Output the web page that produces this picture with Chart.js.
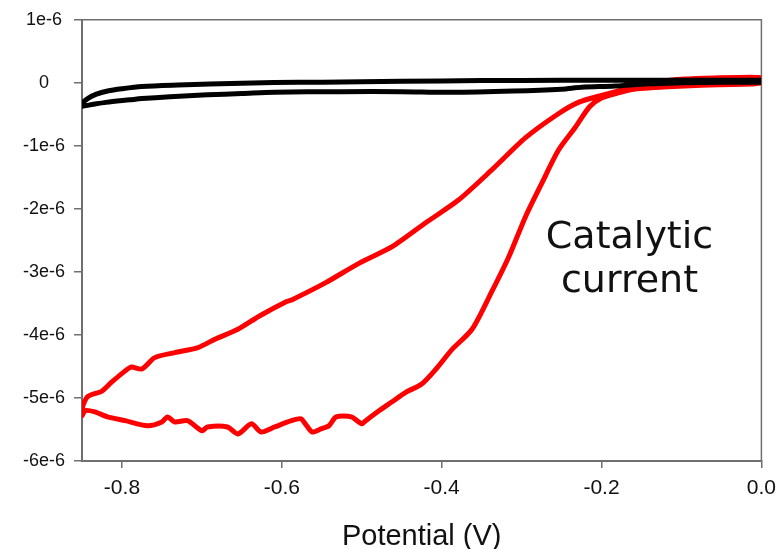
<!DOCTYPE html>
<html>
<head>
<meta charset="utf-8">
<script src="https://cdn.jsdelivr.net/npm/chart.js@4.4.1/dist/chart.umd.min.js"></script>
<style>
  html, body { margin: 0; padding: 0; background: #ffffff; }
  #wrap { width: 784px; height: 549px; }
</style>
</head>
<body>
<div id="wrap"><canvas id="cv" width="784" height="549"></canvas></div>
<script>
// Axis ticks
const potentialTicks = [-0.8, -0.6, -0.4, -0.2, 0.0];
const potentialTickLabels = ['-0.8', '-0.6', '-0.4', '-0.2', '0.0'];
const currentTicks = [1, 0, -1, -2, -3, -4, -5, -6];           // in units of 1e-6 A
const currentTickLabels = ['1e-6', '0', '-1e-6', '-2e-6', '-3e-6', '-4e-6', '-5e-6', '-6e-6'];

// Blank scan (no catalyst): potential (V) and current (1e-6 A)
const blankPotential = [
  0.0, -0.05, -0.15, -0.25, -0.35, -0.45, -0.55, -0.61, -0.69, -0.73, -0.775, -0.80, -0.818, -0.832, -0.843, -0.85,
  -0.85, -0.84, -0.82, -0.79, -0.775, -0.74, -0.693, -0.65, -0.609, -0.526, -0.45, -0.39, -0.31, -0.25, -0.225, -0.183, -0.142, -0.10, -0.05, 0.0
];
const blankCurrent = [
  0.04, 0.04, 0.04, 0.04, 0.035, 0.025, 0.01, 0.005, -0.02, -0.035, -0.06, -0.095, -0.13, -0.18, -0.25, -0.33,
  -0.37, -0.35, -0.31, -0.27, -0.25, -0.22, -0.19, -0.17, -0.15, -0.14, -0.14, -0.15, -0.13, -0.10, -0.07, -0.05, -0.015, 0.0, 0.01, 0.01
];

// Catalytic scan: potential (V) and current (1e-6 A)
const catalyticPotential = [
  0.0, -0.013, -0.054, -0.096, -0.138, -0.158, -0.179, -0.200, -0.215, -0.233, -0.254, -0.275, -0.295, -0.316, -0.338, -0.362,
  -0.387, -0.407, -0.425, -0.445, -0.462, -0.478, -0.495, -0.500, -0.513, -0.532, -0.541, -0.551, -0.562, -0.569, -0.576, -0.588,
  -0.609, -0.626, -0.638, -0.655, -0.668, -0.693, -0.700, -0.718, -0.734, -0.743, -0.750, -0.768, -0.796, -0.818, -0.834, -0.846, -0.85,
  -0.85, -0.843, -0.825, -0.813, -0.796, -0.788, -0.775, -0.759, -0.734, -0.705, -0.684, -0.655, -0.628, -0.594, -0.587, -0.545,
  -0.503, -0.462, -0.420, -0.379, -0.338, -0.295, -0.254, -0.229, -0.200, -0.179, -0.138, -0.096, -0.054, -0.013, 0.0
];
const catalyticCurrent = [
  0.0, -0.02, -0.03, -0.05, -0.08, -0.10, -0.16, -0.24, -0.38, -0.71, -1.07, -1.60, -2.12, -2.76, -3.33, -3.91,
  -4.23, -4.54, -4.78, -4.91, -5.06, -5.20, -5.36, -5.41, -5.30, -5.30, -5.44, -5.49, -5.54, -5.44, -5.33, -5.36,
  -5.46, -5.54, -5.41, -5.57, -5.46, -5.46, -5.52, -5.36, -5.38, -5.30, -5.38, -5.44, -5.36, -5.30, -5.22, -5.20, -5.28,
  -5.17, -4.98, -4.89, -4.75, -4.57, -4.51, -4.54, -4.36, -4.28, -4.20, -4.07, -3.91, -3.70, -3.47, -3.44, -3.17,
  -2.86, -2.60, -2.22, -1.86, -1.39, -0.87, -0.49, -0.31, -0.20, -0.13, 0.0, 0.06, 0.08, 0.09, 0.08
];

const toPoints = (xs, ys) => xs.map((x, i) => ({ x: x, y: ys[i] }));

const AXIS_GREY = '#6f6f6f';
const TEXT_COLOR = '#111111';
const SANS = '"Liberation Sans", Arial, sans-serif';

// Frame around the plotting area plus the in-plot annotation
const framePlugin = {
  id: 'frame',
  beforeDatasetsDraw(chart) {
    const { ctx, chartArea: a } = chart;
    ctx.save();
    ctx.strokeStyle = AXIS_GREY;
    ctx.lineWidth = 1.5;
    ctx.beginPath();
    ctx.moveTo(a.left, a.top);
    ctx.lineTo(a.right, a.top);
    ctx.lineTo(a.right, a.bottom);
    ctx.stroke();
    ctx.restore();
  },
  afterDatasetsDraw(chart) {
    const { ctx } = chart;
    const xs = chart.scales.x, ys = chart.scales.y;
    ctx.save();
    ctx.fillStyle = TEXT_COLOR;
    ctx.font = '38px "DejaVu Sans"';
    ctx.textAlign = 'center';
    ctx.textBaseline = 'alphabetic';
    const cx = xs.getPixelForValue(-0.165);
    ctx.fillText('Catalytic', cx, ys.getPixelForValue(-2.62));
    ctx.fillText('current', cx, ys.getPixelForValue(-3.32));
    ctx.restore();
  }
};

new Chart(document.getElementById('cv'), {
  type: 'scatter',
  data: {
    datasets: [
      {
        label: 'Blank',
        data: toPoints(blankPotential, blankCurrent),
        showLine: true,
        borderColor: '#000000',
        borderWidth: 5,
        pointRadius: 0,
        tension: 0.3,
        fill: false
      },
      {
        label: 'Catalytic',
        data: toPoints(catalyticPotential, catalyticCurrent),
        showLine: true,
        borderColor: '#ff0000',
        borderWidth: 5,
        pointRadius: 0,
        tension: 0.25,
        fill: false
      }
    ]
  },
  options: {
    responsive: false,
    animation: false,
    events: [],
    layout: { padding: { top: 19, right: 20, left: 0, bottom: 0 } },
    plugins: {
      legend: { display: false },
      tooltip: { enabled: false },
      title: { display: false }
    },
    scales: {
      x: {
        type: 'linear',
        min: -0.85,
        max: 0.0,
        afterBuildTicks(scale) { scale.ticks = potentialTicks.map(v => ({ value: v })); },
        afterFit(scale) { scale.height = 88; },
        ticks: {
          color: TEXT_COLOR,
          font: { family: SANS, size: 21 },
          padding: 8,
          maxRotation: 0,
          autoSkip: false,
          callback(value) {
            const i = potentialTicks.findIndex(t => Math.abs(t - value) < 1e-9);
            return i >= 0 ? potentialTickLabels[i] : '';
          }
        },
        grid: { drawOnChartArea: false, drawTicks: true, tickLength: 7, color: AXIS_GREY, lineWidth: 1.5 },
        border: { display: true, color: AXIS_GREY, width: 2 },
        title: {
          display: true,
          text: 'Potential (V)',
          color: TEXT_COLOR,
          font: { family: SANS, size: 29 },
          padding: { top: 0, bottom: -5 }
        }
      },
      y: {
        type: 'linear',
        min: -6,
        max: 1,
        afterBuildTicks(scale) { scale.ticks = currentTicks.map(v => ({ value: v })); },
        afterFit(scale) { scale.width = 82; },
        ticks: {
          color: TEXT_COLOR,
          font: { family: SANS, size: 18 },
          padding: 9,
          crossAlign: 'center',
          autoSkip: false,
          callback(value) {
            const i = currentTicks.findIndex(t => Math.abs(t - value) < 1e-9);
            return i >= 0 ? currentTickLabels[i] : '';
          }
        },
        grid: { drawOnChartArea: false, drawTicks: true, tickLength: 8, color: AXIS_GREY, lineWidth: 1.5 },
        border: { display: true, color: AXIS_GREY, width: 2 }
      }
    }
  },
  plugins: [framePlugin]
});
</script>
</body>
</html>
